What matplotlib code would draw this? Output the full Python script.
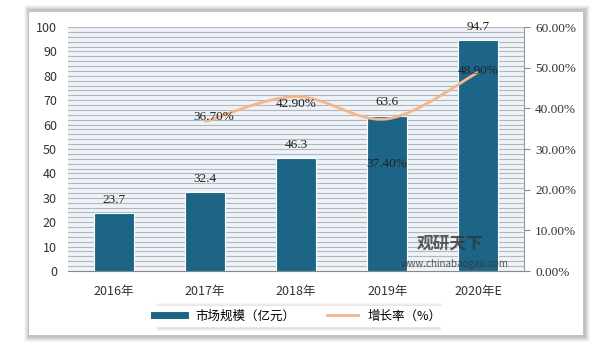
import matplotlib.pyplot as plt
import numpy as np
from matplotlib.patches import Rectangle
from matplotlib.path import Path
from matplotlib.patches import PathPatch
from matplotlib.lines import Line2D

plt.rcParams['font.family'] = ['Noto Sans CJK SC', 'DejaVu Sans']

# data
years = ['2016年', '2017年', '2018年', '2019年', '2020年E']
scale = [23.7, 32.4, 46.3, 63.6, 94.7]
rate_years = [1, 2, 3, 4]
rate = [36.7, 42.9, 37.4, 48.9]
rate_labels = ['36.70%', '42.90%', '37.40%', '48.90%']

bar_color = '#1c6587'
line_color = '#f5b68a'

fig = plt.figure(figsize=(6.09, 3.56), dpi=100)
fig.patch.set_facecolor('white')

# card with shadow
W, H = 609, 356
for i, a in enumerate([0.03, 0.04, 0.05, 0.06, 0.07]):
    d = 5 - i
    fig.patches.append(Rectangle(((29 - d) / W, 1 - (337 + d) / H), (556 + 2 * d) / W, (327 + 2 * d) / H,
                                 transform=fig.transFigure, facecolor='black', alpha=a, edgecolor='none', zorder=0))
fig.patches.append(Rectangle((29 / W, 1 - 335 / H), 554 / W, 323 / H, transform=fig.transFigure,
                             facecolor='white', edgecolor='none', zorder=1))

ax = fig.add_axes([68 / W, 1 - 271 / H, 456 / W, 244 / H])
ax.set_zorder(2)
ax.set_facecolor('#edf3f8')
x = np.arange(len(years))

# striped background
for yy in np.arange(2, 100.1, 2):
    ax.axhline(yy, color='#b3b7bc', lw=0.8, zorder=0)

ax.bar(x, scale, width=0.44, color=bar_color, edgecolor='white', lw=0.8, zorder=3)
for xi, v in zip(x, scale):
    ax.text(xi, v + 3, f'{v}', ha='center', va='bottom', fontsize=9.5,
            family=['Liberation Serif'], color='#222222', zorder=5)

ax.set_xlim(-0.5, 4.5)
ax.set_ylim(0, 100)
ax.set_yticks(np.arange(0, 101, 10))
ax.set_xticks(x)
ax.set_xticklabels(years, fontsize=9, color='#333333')
ax.tick_params(axis='y', length=0, labelsize=9, colors='#333333', pad=8)
ax.tick_params(axis='x', length=0, pad=10)
for s in ['top', 'left', 'right']:
    ax.spines[s].set_visible(False)
ax.spines['bottom'].set_color('#888888')

ax2 = ax.twinx()
ax2.set_ylim(0, 60)
ax2.set_yticks(np.arange(0, 61, 10))
ax2.set_yticklabels([f'{v:.2f}%' for v in np.arange(0, 61, 10)], fontsize=9.5,
                    family=['Liberation Serif'], color='#333333')
ax2.tick_params(axis='y', length=4, color='#888888', pad=4)
for s in ['top', 'left', 'bottom']:
    ax2.spines[s].set_visible(False)
ax2.spines['right'].set_color('#999999')

# smooth line (Catmull-Rom style bezier through the data points)
px = np.array(rate_years, dtype=float)
py = np.array(rate, dtype=float)
verts = [(px[0], py[0])]
codes = [Path.MOVETO]
for i in range(len(px) - 1):
    p0 = (px[max(i - 1, 0)], py[max(i - 1, 0)])
    p1 = (px[i], py[i])
    p2 = (px[i + 1], py[i + 1])
    p3 = (px[min(i + 2, len(px) - 1)], py[min(i + 2, len(px) - 1)])
    c1 = (p1[0] + (p2[0] - p0[0]) / 6, p1[1] + (p2[1] - p0[1]) / 6)
    c2 = (p2[0] - (p3[0] - p1[0]) / 6, p2[1] - (p3[1] - p1[1]) / 6)
    verts += [c1, c2, p2]
    codes += [Path.CURVE4] * 3
ax2.add_patch(PathPatch(Path(verts, codes), facecolor='none', edgecolor=line_color, lw=2, zorder=4))

offsets = [(0.1, 1.2), (0, -1.8), (0, -11), (0, 0.3)]
for xi, v, lab, off in zip(rate_years, rate, rate_labels, offsets):
    ax2.text(xi + off[0], v + off[1], lab, ha='center', va='center', fontsize=9.5,
             family=['Liberation Serif'], color='#222222', zorder=5)

# watermark
fig.text(450 / W, 1 - 244 / H, '观研天下', fontsize=12, fontweight='bold', color='#333333',
         alpha=0.8, ha='center', va='center', zorder=10)
fig.text(455 / W, 1 - 264 / H, 'www.chinabaogao.com', fontsize=7, color='#333333',
         alpha=0.8, ha='center', va='center', zorder=10)

# soft legend shadow
for i, a in enumerate([0.03, 0.04, 0.05]):
    d = 3 - i
    fig.patches.append(Rectangle(((159 - d) / W, 1 - (328 + d) / H), (280 + 2 * d) / W, (22 + 2 * d) / H,
                                 transform=fig.transFigure, facecolor='black', alpha=a,
                                 edgecolor='none', zorder=1.5))

handles = [Line2D([], [], color=bar_color, lw=5),
           Line2D([], [], color=line_color, lw=2)]
leg = fig.legend(handles, ['市场规模（亿元）', '增长率（%）'], loc='center',
                 bbox_to_anchor=(298 / W, 1 - 316 / H), ncol=2, fontsize=9, frameon=True,
                 handlelength=2.5, columnspacing=2.5, fancybox=False, borderpad=0.3)
leg.get_frame().set_edgecolor('white')
leg.get_frame().set_alpha(1)
leg.set_zorder(5)

fig.savefig('out.png', dpi=100)
